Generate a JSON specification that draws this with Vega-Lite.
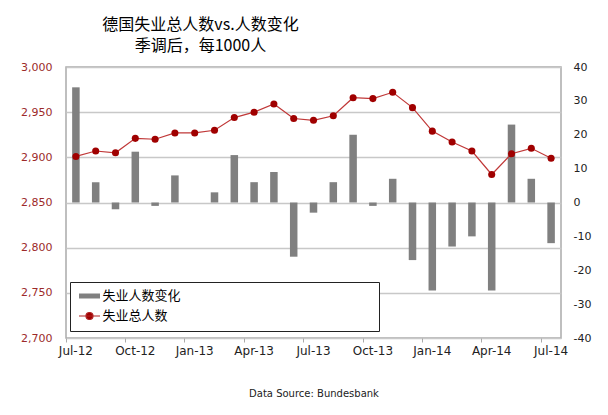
{
  "$schema": "https://vega.github.io/schema/vega-lite/v6.json",
  "width": 495,
  "height": 271,
  "autosize": "none",
  "padding": {"left": 66, "top": 67, "right": 47, "bottom": 77},
  "background": "white",
  "config": {
    "view": {"stroke": "#aaaaaa", "strokeWidth": 1.5},
    "font": "DejaVu Sans"
  },
  "title": {
    "text": "德国失业总人数vs.人数变化",
    "subtitle": "季调后，每1000人",
    "anchor": "middle",
    "dx": -113,
    "offset": 7,
    "font": "Noto Sans CJK SC",
    "fontSize": 16,
    "fontWeight": "normal",
    "color": "#000000",
    "subtitleFont": "Noto Sans CJK SC",
    "subtitleFontSize": 16,
    "subtitleColor": "#000000",
    "subtitlePadding": 5
  },
  "data": {
    "values": [
      {"month": "Jul-12", "change": 34, "total": 2901},
      {"month": "Aug-12", "change": 6, "total": 2907},
      {"month": "Sep-12", "change": -2, "total": 2905},
      {"month": "Oct-12", "change": 15, "total": 2921},
      {"month": "Nov-12", "change": -1, "total": 2920},
      {"month": "Dec-12", "change": 8, "total": 2927},
      {"month": "Jan-13", "change": 0, "total": 2927},
      {"month": "Feb-13", "change": 3, "total": 2930},
      {"month": "Mar-13", "change": 14, "total": 2944},
      {"month": "Apr-13", "change": 6, "total": 2950},
      {"month": "May-13", "change": 9, "total": 2959},
      {"month": "Jun-13", "change": -16, "total": 2943},
      {"month": "Jul-13", "change": -3, "total": 2941},
      {"month": "Aug-13", "change": 6, "total": 2946},
      {"month": "Sep-13", "change": 20, "total": 2966},
      {"month": "Oct-13", "change": -1, "total": 2965},
      {"month": "Nov-13", "change": 7, "total": 2972},
      {"month": "Dec-13", "change": -17, "total": 2955},
      {"month": "Jan-14", "change": -26, "total": 2929},
      {"month": "Feb-14", "change": -13, "total": 2917},
      {"month": "Mar-14", "change": -10, "total": 2907},
      {"month": "Apr-14", "change": -26, "total": 2881},
      {"month": "May-14", "change": 23, "total": 2904},
      {"month": "Jun-14", "change": 7, "total": 2910},
      {"month": "Jul-14", "change": -12, "total": 2899}
    ]
  },
  "encoding": {
    "x": {
      "field": "month",
      "type": "ordinal",
      "sort": null,
      "scale": {"paddingInner": 0, "paddingOuter": 0},
      "axis": {
        "values": ["Jul-12", "Oct-12", "Jan-13", "Apr-13", "Jul-13", "Oct-13", "Jan-14", "Apr-14", "Jul-14"],
        "bandPosition": 0,
        "labelAngle": 0,
        "labelFont": "DejaVu Sans",
        "labelFontSize": 12,
        "labelColor": "#222222",
        "labelPadding": 3,
        "domain": false,
        "ticks": true,
        "tickSize": 4,
        "tickColor": "#aaaaaa",
        "grid": false,
        "title": "Data Source: Bundesbank",
        "titleFont": "DejaVu Sans",
        "titleFontSize": 10,
        "titleFontWeight": "normal",
        "titleColor": "#222222",
        "titlePadding": 32
      }
    }
  },
  "layer": [
    {
      "mark": {"type": "bar", "width": {"band": 0.38}},
      "encoding": {
        "y": {
          "field": "change",
          "type": "quantitative",
          "scale": {"domain": [-40, 40], "nice": false},
          "axis": {
            "orient": "right",
            "values": [-40, -30, -20, -10, 0, 10, 20, 30, 40],
            "labelExpr": "'' + datum.value",
            "grid": false,
            "domain": false,
            "ticks": false,
            "tickSize": 0,
            "labelPadding": 12,
            "labelFont": "DejaVu Sans",
            "labelFontSize": 11,
            "labelColor": "#222222",
            "title": null
          }
        },
        "color": {
          "datum": "失业人数变化",
          "type": "nominal",
          "scale": {"domain": ["失业人数变化", "失业总人数"], "range": ["#808080", "#A00000"]},
          "legend": {
            "title": null,
            "orient": "none",
            "legendX": 4,
            "legendY": 215,
            "padding": 7.5,
            "strokeColor": "#222222",
            "fillColor": "#ffffff",
            "symbolSize": 100,
            "rowPadding": 6,
            "labelOffset": 12,
            "labelFont": "Noto Sans CJK SC",
            "labelFontSize": 13,
            "labelColor": "#000000",
            "labelLimit": 0,
            "labelExpr": "datum.label + '\u2800\u2800\u2800\u2800\u2800\u2800\u2800\u2800\u2800\u2800\u2800\u2800\u2800\u2800\u2800\u2800\u2800\u2800\u2800'",
            "encode": {
              "symbols": {
                "update": {
                  "shape": {"signal": "datum.value === '失业人数变化' ? 'M-1,-0.5H3.2V0.5H-1Z' : 'M-1,0H3.2M1.8,0A0.7,0.7,0,1,1,0.4,0A0.7,0.7,0,1,1,1.8,0Z'"},
                  "fill": {"signal": "datum.value === '失业人数变化' ? '#808080' : '#A00000'"},
                  "stroke": {"signal": "datum.value === '失业人数变化' ? '#808080' : '#B02020'"},
                  "strokeWidth": {"signal": "datum.value === '失业人数变化' ? 0 : 1.2"},
                  "opacity": {"value": 1},
                  "fillOpacity": {"value": 1},
                  "strokeOpacity": {"value": 1}
                }
              }
            }
          }
        }
      }
    },
    {
      "encoding": {
        "y": {
          "field": "total",
          "type": "quantitative",
          "scale": {"domain": [2700, 3000], "nice": false, "zero": false},
          "axis": {
            "orient": "left",
            "values": [2700, 2750, 2800, 2850, 2900, 2950, 3000],
            "format": ",.0f",
            "grid": true,
            "gridColor": "#c8c8c8",
            "gridWidth": 1.3,
            "domain": false,
            "ticks": false,
            "tickSize": 0,
            "labelPadding": 14,
            "labelFont": "DejaVu Sans",
            "labelFontSize": 11,
            "labelColor": "#9C2A2A",
            "title": null
          }
        }
      },
      "layer": [
        {
          "mark": {"type": "line", "color": "#C03838", "strokeWidth": 1.2}
        },
        {
          "mark": {"type": "point", "filled": true, "size": 50, "opacity": 1},
          "encoding": {
            "color": {"datum": "失业总人数", "type": "nominal"}
          }
        }
      ]
    }
  ],
  "resolve": {"scale": {"y": "independent"}}
}
